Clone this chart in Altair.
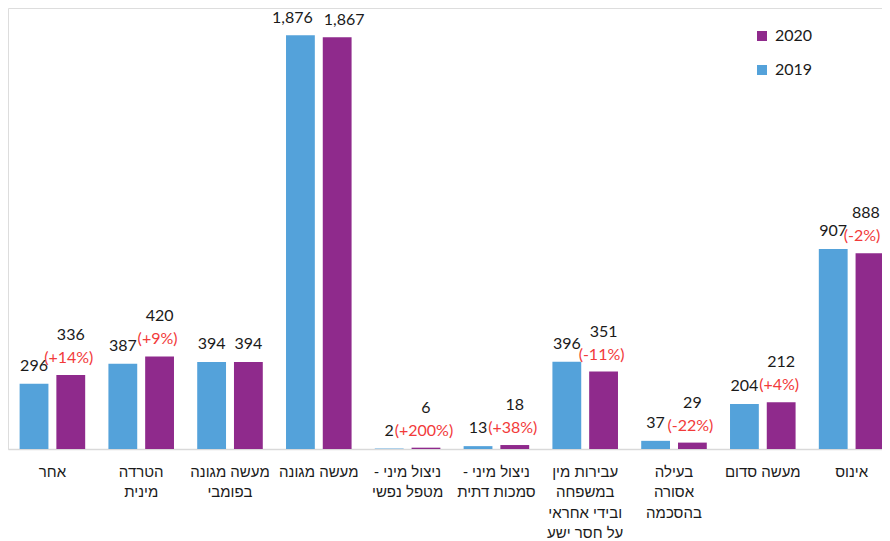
import altair as alt
import pandas as pd

RLM = "\u200f"
categories = [
    "אחר",
    "הטרדה|מינית",
    "מעשה מגונה|בפומבי",
    "מעשה מגונה",
    "ניצול מיני -" + RLM + "|מטפל נפשי",
    "ניצול מיני -" + RLM + "|סמכות דתית",
    "עבירות מין|במשפחה|ובידי אחראי|על חסר ישע",
    "בעילה|אסורה|בהסכמה",
    "מעשה סדום",
    "אינוס",
]
values_2019 = [296, 387, 394, 1876, 2, 13, 396, 37, 204, 907]
values_2020 = [336, 420, 394, 1867, 6, 18, 351, 29, 212, 888]
change_2020 = ["(+14%)", "(+9%)", "", "", "(+200%)", "(+38%)", "(-11%)", "(-22%)", "(+4%)", "(-2%)"]
years = ["2019", "2020"]

BLUE = "#54A2DA"
PURPLE = "#8F2A8C"
RED = "#F23A3A"
INK = "#1a1a1a"
TALL = categories[3]
LAST = categories[-1]

rows = []
for i, c in enumerate(categories):
    rows.append({"cat": c, "year": "2019", "value": values_2019[i], "pct": ""})
    rows.append({"cat": c, "year": "2020", "value": values_2020[i], "pct": change_2020[i]})
df = pd.DataFrame(rows)
df["label"] = df["value"].map(lambda v: f"{v:,}")

x = alt.X(
    "cat:N",
    sort=categories,
    scale=alt.Scale(range=[0, 888], paddingInner=0, paddingOuter=0),
    axis=alt.Axis(
        title=None,
        ticks=False,
        labelAngle=0,
        labelExpr="split(datum.label, '|')",
        labelFont="Liberation Sans",
        labelFontSize=15,
        labelColor=INK,
        labelLineHeight=20.5,
        labelBaseline="top",
        labelPadding=15,
        labelLimit=200,
        domainColor="#D9D9D9",
        domainWidth=1.5,
        grid=False,
    ),
)
xoff = alt.XOffset(
    "year:N",
    sort=years,
    scale=alt.Scale(domain=years, paddingInner=0.216, paddingOuter=0.316),
)
y = alt.Y("value:Q", scale=alt.Scale(domain=[0, 2000]), axis=None)

base = alt.Chart(df)

bars = base.mark_bar().encode(
    x=x,
    xOffset=xoff,
    y=y,
    color=alt.Color(
        "year:N",
        scale=alt.Scale(domain=["2020", "2019"], range=[PURPLE, BLUE]),
        legend=alt.Legend(
            title=None,
            orient="none",
            legendX=746,
            legendY=20,
            symbolType="square",
            symbolSize=100,
            symbolStrokeWidth=0,
            labelFont="Lato",
            labelFontSize=16,
            labelColor=INK,
            labelOffset=5,
            rowPadding=18,
        ),
    ),
)


def text_layer(flt, field, dy, dx=0, color=INK):
    return (
        base.transform_filter(flt)
        .mark_text(dy=dy, dx=dx, font="Lato", fontSize=16, baseline="middle",
                   align="center", color=color)
        .encode(x=x, xOffset=xoff, y=y, text=f"{field}:N")
    )


normal = f"datum.cat != '{TALL}' && datum.cat != '{LAST}'"
layers = [
    bars,
    # values directly above bars
    text_layer(f"(datum.year == '2019' || datum.pct == '') && {normal}", "label", -18),
    # 2020 values above a change label
    text_layer(f"datum.year == '2020' && datum.pct != '' && {normal}", "label", -40),
    # change labels
    text_layer(f"datum.year == '2020' && datum.pct != '' && {normal}", "pct", -17, -2, RED),
    # tallest pair, pushed apart
    text_layer(f"datum.cat == '{TALL}' && datum.year == '2019'", "label", -17, -8),
    text_layer(f"datum.cat == '{TALL}' && datum.year == '2020'", "label", -17, 7),
    # last group, kept inside the right edge
    text_layer(f"datum.cat == '{LAST}' && datum.year == '2019'", "label", -18),
    text_layer(f"datum.cat == '{LAST}' && datum.year == '2020'", "label", -40, -4),
    text_layer(f"datum.cat == '{LAST}' && datum.year == '2020'", "pct", -17, -8, RED),
]

chart = (
    alt.layer(*layers)
    .properties(
        width=874,
        height=441,
        autosize=alt.AutoSizeParams(type="none"),
        padding={"left": 0, "top": 0, "right": 0, "bottom": 92},
    )
    .configure_view(stroke=None)
    .configure(background="white")
)

chart.save("out.html", embed_options={"renderer": "svg", "actions": False})
